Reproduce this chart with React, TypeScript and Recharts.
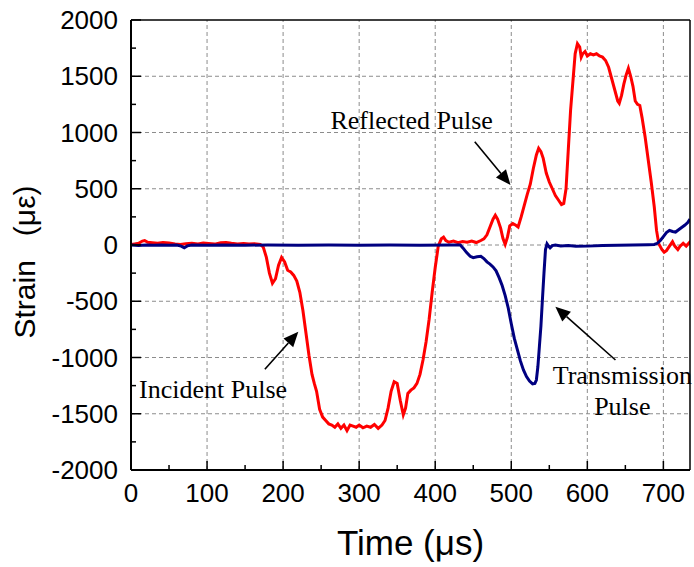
import { Line, LineChart, ReferenceDot, ReferenceLine, XAxis, YAxis } from 'recharts'

// strain gauge traces, [time µs, strain µε]
const incidentBar: [number, number][] = [
  [0, 5], [5, 10], [10, 15], [15, 35], [18, 40], [22, 25], [28, 20], [35, 15], [42, 22], [50, 18],
  [58, 10], [65, 5], [72, 12], [80, 15], [88, 10], [95, 18], [102, 14], [110, 8], [118, 20], [125, 22],
  [132, 15], [140, 10], [148, 14], [155, 8], [162, 12], [170, 5], [174, -20], [178, -110], [182, -250],
  [186, -340], [190, -300], [194, -180], [198, -110], [202, -150], [206, -225], [210, -240], [214, -270],
  [218, -320], [222, -420], [226, -580], [230, -780], [234, -980], [238, -1150], [241, -1230], [244, -1300],
  [248, -1460], [252, -1530], [256, -1560], [260, -1590], [264, -1600], [268, -1620], [272, -1590],
  [276, -1630], [280, -1600], [284, -1650], [288, -1600], [292, -1610], [296, -1620], [300, -1600],
  [305, -1625], [310, -1610], [315, -1620], [320, -1595], [325, -1630], [330, -1600], [334, -1560],
  [338, -1450], [342, -1300], [346, -1215], [350, -1230], [354, -1380], [358, -1510], [361, -1450],
  [364, -1320], [368, -1290], [372, -1270], [376, -1230], [380, -1150], [384, -1020], [388, -860],
  [392, -660], [396, -420], [400, -200], [404, -10], [408, 55], [411, 70], [414, 40], [418, 25],
  [424, 35], [430, 20], [436, 30], [442, 25], [448, 35], [454, 22], [460, 40], [464, 55], [468, 90],
  [472, 160], [476, 230], [479, 265], [482, 230], [486, 150], [489, 60], [492, 5], [495, 70], [498, 170],
  [502, 190], [506, 175], [509, 160], [513, 250], [517, 350], [521, 450], [525, 540], [529, 680],
  [533, 800], [536, 860], [539, 830], [542, 770], [546, 640], [550, 560], [554, 500], [558, 440],
  [562, 400], [566, 360], [569, 370], [572, 500], [575, 850], [578, 1200], [581, 1450], [584, 1700],
  [587, 1790], [590, 1760], [592, 1670], [594, 1700], [597, 1720], [600, 1680], [604, 1700], [608, 1690],
  [612, 1700], [616, 1680], [620, 1670], [624, 1640], [628, 1580], [632, 1480], [636, 1380], [640, 1280],
  [642, 1260], [645, 1330], [648, 1430], [651, 1510], [654, 1570], [657, 1500], [660, 1410], [663, 1280],
  [666, 1250], [669, 1240], [672, 1130], [676, 960], [680, 760], [684, 560], [688, 340], [691, 130],
  [694, 10], [698, -40], [701, -65], [704, -50], [708, -10], [712, 30], [715, -10], [719, -40],
  [722, -10], [726, 15], [730, -10], [734, 20], [735, 5],
]

const transmissionBar: [number, number][] = [
  [0, 0], [10, -5], [20, 0], [30, -3], [40, 0], [50, -2], [60, 0], [66, -10], [70, -25], [74, -8],
  [80, 0], [100, -3], [120, 0], [150, -2], [180, 0], [220, -3], [260, 0], [300, -2], [340, 0], [380, -3],
  [420, 0], [433, 0], [437, -30], [441, -65], [446, -100], [450, -112], [455, -105], [460, -100],
  [464, -120], [468, -150], [472, -170], [476, -195], [480, -230], [484, -290], [488, -360], [492, -450],
  [496, -560], [500, -700], [504, -830], [508, -930], [512, -1030], [516, -1110], [520, -1170],
  [524, -1210], [528, -1235], [531, -1230], [533, -1200], [535, -1080], [537, -900], [539, -720],
  [541, -480], [543, -250], [545, -40], [547, 10], [549, -10], [551, -25], [554, -5], [558, 0],
  [565, -8], [575, -5], [585, -12], [600, -10], [620, -5], [640, -3], [660, 0], [680, 3], [688, 5],
  [692, 15], [696, 40], [700, 75], [704, 110], [708, 130], [712, 120], [716, 115], [720, 135],
  [724, 155], [728, 175], [732, 200], [735, 230],
]

const xTicks = [0, 50, 100, 150, 200, 250, 300, 350, 400, 450, 500, 550, 600, 650, 700]
const yTicks = [-2000, -1750, -1500, -1250, -1000, -750, -500, -250, 0, 250, 500, 750, 1000, 1250, 1500, 1750, 2000]
const xGrid = [100, 200, 300, 400, 500, 600, 700]
const yGrid = [-1500, -1000, -500, 0, 500, 1000, 1500]

// annotation arrows: tail -> head, in data units
const arrows: { from: [number, number]; to: [number, number] }[] = [
  { from: [176, -1105], to: [220, -771] },
  { from: [452, 918], to: [499, 533] },
  { from: [637, -1022], to: [558, -548] },
]
const notes: { t: number; v: number; text: string }[] = [
  { t: 108, v: -1360, text: 'Incident Pulse' },
  { t: 369, v: 1028, text: 'Reflected Pulse' },
  { t: 646, v: -1236, text: 'Transmission' },
  { t: 646, v: -1511, text: 'Pulse' },
]

const toRows = (pts: [number, number][]) => pts.map(([t, v]) => ({ t, v }))
const incidentData = toRows(incidentBar)
const transmissionData = toRows(transmissionBar)

const sans = '"Liberation Sans", Arial, sans-serif'
const serif = '"Liberation Serif", "Times New Roman", serif'

const XTick = ({ x, y, payload }: any) => {
  const major = payload.value % 100 === 0
  return (
    <g>
      <line x1={x} x2={x} y1={y} y2={y - (major ? 9 : 5)} stroke="#000" strokeWidth={1.5} />
      {major && (
        <text x={x} y={y + 32} textAnchor="middle" fontFamily={sans} fontSize={26} fill="#000">
          {payload.value}
        </text>
      )}
    </g>
  )
}

const YTick = ({ x, y, payload }: any) => {
  const major = payload.value % 500 === 0
  return (
    <g>
      <line x1={x} x2={x + (major ? 10 : 5)} y1={y} y2={y} stroke="#000" strokeWidth={1.5} />
      {major && (
        <text x={x - 13} y={y + 9} textAnchor="end" fontFamily={sans} fontSize={26} fill="#000">
          {payload.value}
        </text>
      )}
    </g>
  )
}

const RightTick = ({ x, y }: any) => <line x1={x} x2={x + 5} y1={y} y2={y} stroke="#000" strokeWidth={1.2} />

const Arrow = ({ x1, y1, x2, y2 }: any) => {
  const a = Math.atan2(y2 - y1, x2 - x1)
  const len = 15
  const half = 6.5
  const bx = x2 - len * Math.cos(a)
  const by = y2 - len * Math.sin(a)
  const px = -Math.sin(a) * half
  const py = Math.cos(a) * half
  return (
    <g>
      <line x1={x1} y1={y1} x2={bx} y2={by} stroke="#000" strokeWidth={1.6} />
      <polygon points={`${x2},${y2} ${bx + px},${by + py} ${bx - px},${by - py}`} fill="#000" />
    </g>
  )
}

export default function App() {
  return (
    <div style={{ width: 694, height: 567 }}>
      <style>{'body{margin:0}'}</style>
      <LineChart width={694} height={567} margin={{ top: 20, right: 0, bottom: 0, left: 0 }}>
        <XAxis
          dataKey="t"
          type="number"
          domain={[0, 735]}
          ticks={xTicks}
          interval={0}
          allowDataOverflow
          height={97}
          tickSize={0}
          tickMargin={0}
          tickLine={false}
          tick={<XTick />}
          axisLine={{ stroke: '#000', strokeWidth: 2 }}
          label={{
            content: ({ viewBox }: any) => (
              <text x={viewBox.x + viewBox.width / 2} y={555} textAnchor="middle" fontFamily={sans} fontSize={35} fill="#000">
                Time (μs)
              </text>
            ),
          }}
        />
        <YAxis
          yAxisId="left"
          type="number"
          domain={[-2000, 2000]}
          ticks={yTicks}
          interval={0}
          allowDataOverflow
          width={131}
          tickSize={0}
          tickMargin={0}
          tickLine={false}
          tick={<YTick />}
          axisLine={{ stroke: '#000', strokeWidth: 2 }}
          label={{
            content: ({ viewBox }: any) => (
              <text
                x={35}
                y={262}
                transform="rotate(-90 35 262)"
                textAnchor="middle"
                fontFamily={sans}
                fontSize={30}
                fill="#000"
              >
                Strain<tspan dx={24}>(με)</tspan>
              </text>
            ),
          }}
        />
        <YAxis
          yAxisId="right"
          orientation="right"
          type="number"
          domain={[-2000, 2000]}
          ticks={[-1875, -1750, -1625, -1500, -1375, -1250, -1125, -1000, -875, -750, -625, -500, -375, -250, -125, 0, 125, 250, 375, 500, 625, 750, 875, 1000, 1125, 1250, 1375, 1500, 1625, 1750, 1875]}
          interval={0}
          width={4}
          tickSize={0}
          tickMargin={0}
          tickLine={false}
          tick={<RightTick />}
          axisLine={{ stroke: '#000', strokeWidth: 1.5 }}
        />

        {xGrid.map((v) => (
          <ReferenceLine key={`gx${v}`} yAxisId="left" x={v} stroke="#8c8c8c" strokeWidth={1} strokeDasharray="4 3" />
        ))}
        {yGrid.map((v) => (
          <ReferenceLine key={`gy${v}`} yAxisId="left" y={v} stroke="#8c8c8c" strokeWidth={1} strokeDasharray="4 3" />
        ))}
        <ReferenceLine yAxisId="left" y={2000} stroke="#000" strokeWidth={1.5} />

        <Line
          yAxisId="left"
          data={incidentData}
          dataKey="v"
          type="linear"
          stroke="#ff0000"
          strokeWidth={3}
          dot={false}
          activeDot={false}
          isAnimationActive={false}
        />
        <Line
          yAxisId="left"
          data={transmissionData}
          dataKey="v"
          type="linear"
          stroke="#000080"
          strokeWidth={3}
          dot={false}
          activeDot={false}
          isAnimationActive={false}
        />

        {arrows.map((a, i) => (
          <ReferenceLine
            key={`ar${i}`}
            yAxisId="left"
            segment={[{ x: a.from[0], y: a.from[1] }, { x: a.to[0], y: a.to[1] }]}
            shape={<Arrow />}
          />
        ))}
        {notes.map((n, i) => (
          <ReferenceDot
            key={`nt${i}`}
            yAxisId="left"
            x={n.t}
            y={n.v}
            r={0}
            shape={({ cx, cy }: any) => (
              <text x={cx} y={cy} textAnchor="middle" fontFamily={serif} fontSize={26} fill="#000">
                {n.text}
              </text>
            )}
          />
        ))}
      </LineChart>
    </div>
  )
}
